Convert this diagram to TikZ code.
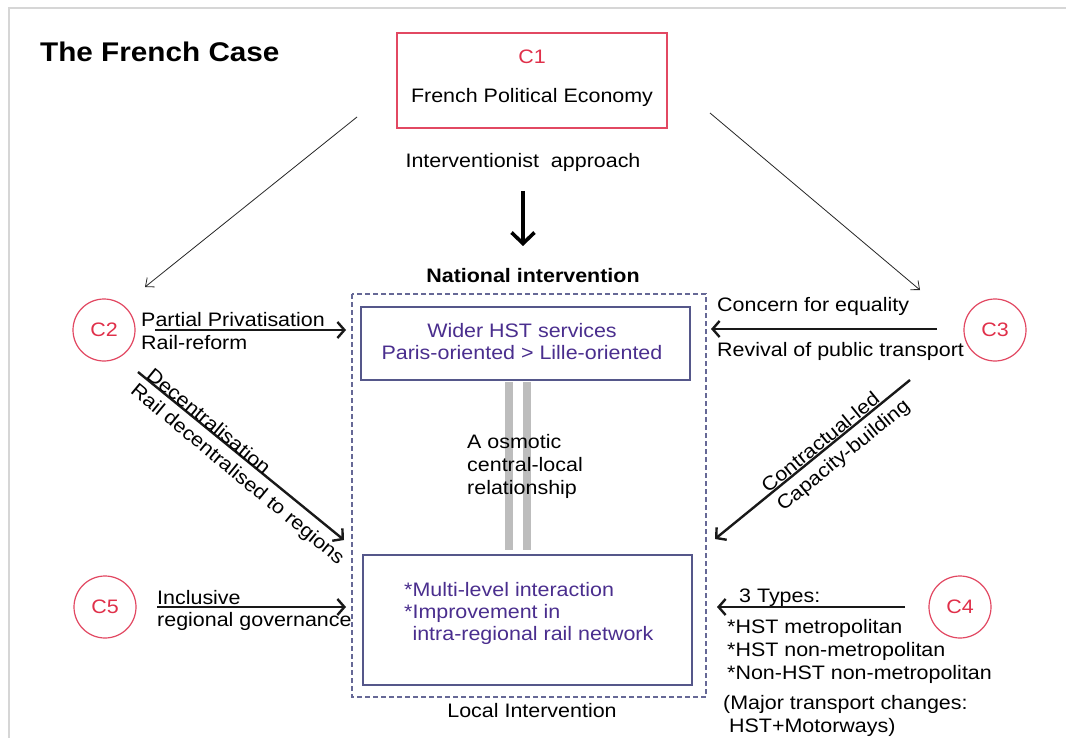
\documentclass[tikz,border=0pt]{standalone}
\usepackage{fontspec}
\setmainfont{Liberation Sans}[FakeStretch=1.1]
\usetikzlibrary{arrows.meta}

\definecolor{cred}{HTML}{E24862}
\definecolor{credtxt}{HTML}{E0304A}
\definecolor{boxblue}{HTML}{55578A}
\definecolor{txtpurple}{HTML}{4A2E8E}
\definecolor{bargray}{HTML}{BDBDBD}
\definecolor{framegray}{HTML}{D6D6D6}

\newcommand{\lbl}{\fontsize{19.5}{23}\selectfont}
\newcommand{\ttl}{\fontsize{27}{30}\selectfont\bfseries}

\tikzset{
  every node/.style={font=\lbl, inner sep=1pt},
  bigarrow/.style={-{Straight Barb[length=7pt,width=16pt]}, line width=2.4pt, black!90},
  heavyarrow/.style={-{Straight Barb[length=11pt,width=23pt]}, line width=3.6pt, black},
  thinarrow/.style={-{Straight Barb[length=7pt,width=12pt]}, line width=0.8pt, black!85},
  ccircle/.style={circle, draw=cred, line width=1.2pt, minimum size=62pt, text=credtxt},
  innerbox/.style={draw=boxblue, line width=2.4pt},
}

\begin{document}
\begin{tikzpicture}[x=1pt,y=-1pt]
\useasboundingbox (0,0) rectangle (1066,738);
\fill[white] (0,0) rectangle (1066,738);
\draw[framegray, line width=1.5pt] (9,738) -- (9,8) -- (1066,8);

% title
\node[anchor=west, font=\ttl] (title) at (39,52) {The French Case};

% C1 box
\node[draw=cred, line width=2.5pt, minimum width=270pt, minimum height=95pt] (c1) at (532,80.5) {};
\node[text=credtxt] (c1lbl) at (532,57) {C1};
\node (c1txt) at (532,97) {French Political Economy};
\node (approach) at (523,162) {Interventionist\ \ approach};

% arrows leaving C1
\coordinate (downA) at (523,191);
\coordinate (downB) at (523,246);
\draw[heavyarrow] (downA) -- (downB);
\coordinate (leftA) at (357,117);
\coordinate (leftB) at (145,287);
\draw[thinarrow] (leftA) -- (leftB);
\coordinate (rightA) at (710,113);
\coordinate (rightB) at (920,290);
\draw[thinarrow] (rightA) -- (rightB);

% central frame
\node[font=\lbl\bfseries] (national) at (533,276) {National intervention};
\draw[boxblue!90, line width=2pt, dash pattern=on 5pt off 3pt] (352,294) rectangle (706,697);
\node (local) at (532,711) {Local Intervention};

% osmotic link
\draw[bargray, line width=8pt] (509,382) -- (509,550);
\draw[bargray, line width=8pt] (527,382) -- (527,550);
\node[anchor=west, align=left, font=\fontsize{19.5}{23}\selectfont] (osmo) at (466,466)
  {A osmotic\\central-local\\relationship};

% national box
\node[innerbox, minimum width=329pt, minimum height=73pt] (natbox) at (525.5,343.5) {};
\node[align=center, text=txtpurple, font=\fontsize{19.5}{22}\selectfont] (nattxt) at (522,342)
  {Wider HST services\\Paris-oriented > Lille-oriented};

% local box
\node[innerbox, minimum width=329pt, minimum height=130pt] (locbox) at (527.5,620) {};
\node[anchor=west, align=left, text=txtpurple, font=\fontsize{19.5}{22}\selectfont] (loctxt) at (403,613)
  {*Multi-level interaction\\*Improvement in\\\phantom{*}intra-regional rail network};

% C2
\node[ccircle] (c2) at (104,330) {C2};
\node[anchor=west] (c2a) at (140,320) {Partial Privatisation};
\node[anchor=west] (c2b) at (140,343) {Rail-reform};
\coordinate (c2arrA) at (155,330);
\coordinate (c2arrB) at (346,330);
\draw[bigarrow] (c2arrA) -- (c2arrB);
\coordinate (c2diaA) at (138,372);
\coordinate (c2diaB) at (344,540);
\draw[bigarrow] (c2diaA) -- (c2diaB);
\node[rotate=-39.6] (c2up) at (209,421) {Decentralisation};
\node[rotate=-39.6] (c2dn) at (237,475) {Rail decentralised to regions};

% C5
\node[ccircle] (c5) at (105,607) {C5};
\node[anchor=west] (c5a) at (156,598) {Inclusive};
\node[anchor=west] (c5b) at (156,621) {regional governance};
\coordinate (c5arrA) at (157,607);
\coordinate (c5arrB) at (346,607);
\draw[bigarrow] (c5arrA) -- (c5arrB);

% C3
\node[ccircle] (c3) at (995,330) {C3};
\node[anchor=west] (c3a) at (716,306) {Concern for equality};
\node[anchor=west] (c3b) at (716,351) {Revival of public transport};
\coordinate (c3arrA) at (937,329);
\coordinate (c3arrB) at (711,329);
\draw[bigarrow] (c3arrA) -- (c3arrB);
\coordinate (c3diaA) at (910,380);
\coordinate (c3diaB) at (715,539);
\draw[bigarrow] (c3diaA) -- (c3diaB);
\node[rotate=39.2] (c3up) at (820,442) {Contractual-led};
\node[rotate=39.2] (c3dn) at (844,456) {Capacity-building};

% C4
\node[ccircle] (c4) at (960,607) {C4};
\node[anchor=west] (c4a) at (738,598) {3 Types:};
\coordinate (c4arrA) at (905,607);
\coordinate (c4arrB) at (717,607);
\draw[bigarrow] (c4arrA) -- (c4arrB);
\node[anchor=north west, align=left, font=\fontsize{19.5}{23}\selectfont] (c4list) at (726,618)
  {*HST metropolitan\\*HST non-metropolitan\\*Non-HST non-metropolitan};
\node[anchor=north west, align=left, font=\fontsize{19.5}{23}\selectfont] (c4note) at (722,694)
  {(Major transport changes:\\\ HST+Motorways)};
\end{tikzpicture}
\end{document}
